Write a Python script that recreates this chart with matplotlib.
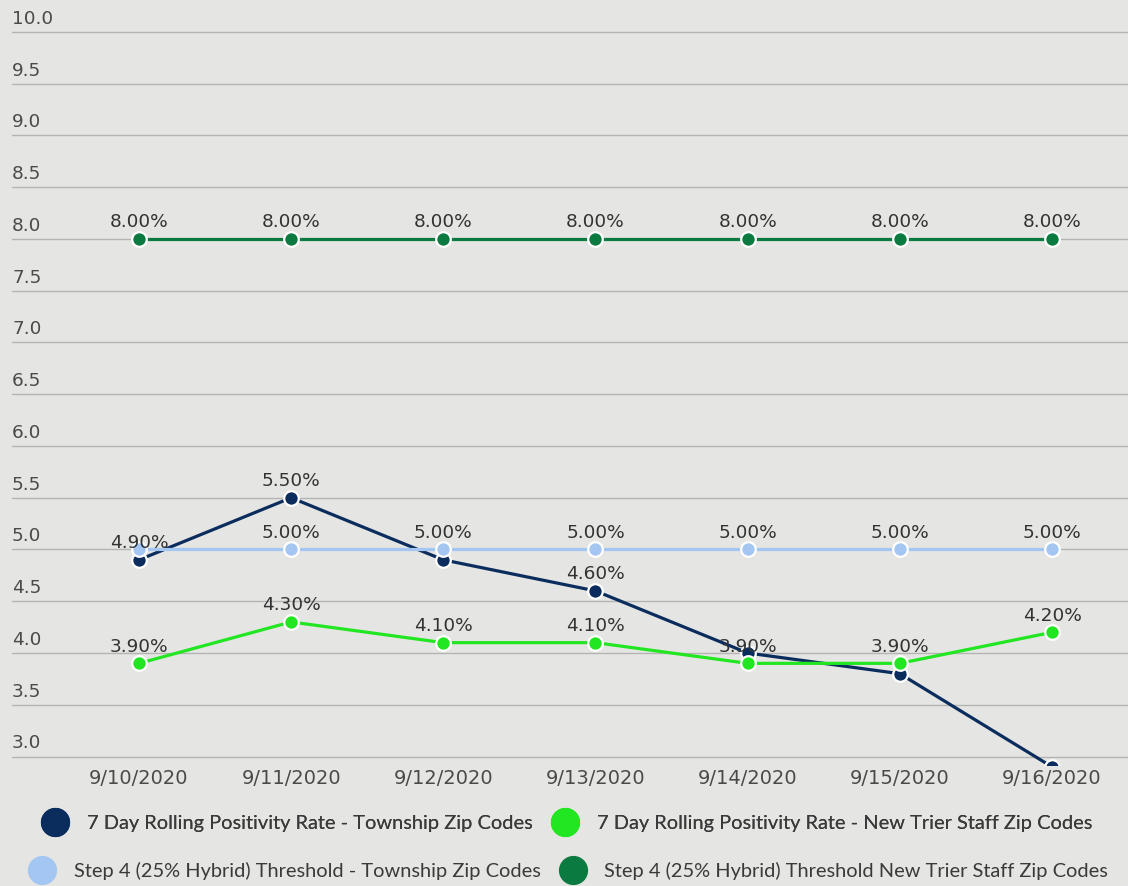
import matplotlib
matplotlib.use("Agg")
import matplotlib.pyplot as plt
import matplotlib.transforms as mtransforms
from matplotlib.lines import Line2D

# data
dates = ["9/10/2020", "9/11/2020", "9/12/2020", "9/13/2020",
         "9/14/2020", "9/15/2020", "9/16/2020"]
township_rate = [4.9, 5.5, 4.9, 4.6, 4.0, 3.8, 2.9]
staff_rate = [3.9, 4.3, 4.1, 4.1, 3.9, 3.9, 4.2]
township_threshold = [5.0, 5.0, 5.0, 5.0, 5.0, 5.0, 5.0]
staff_threshold = [8.0, 8.0, 8.0, 8.0, 8.0, 8.0, 8.0]

names = ["7 Day Rolling Positivity Rate - Township Zip Codes",
         "7 Day Rolling Positivity Rate - New Trier Staff Zip Codes",
         "Step 4 (25% Hybrid) Threshold - Township Zip Codes",
         "Step 4 (25% Hybrid) Threshold New Trier Staff Zip Codes"]

# which data labels survive the overlap hiding in the original
shown_township = [1, 1, 0, 1, 0, 0, 1]
shown_staff = [1, 1, 1, 1, 1, 1, 1]
shown_town_thr = [0, 1, 1, 1, 1, 1, 1]
shown_staff_thr = [1, 1, 1, 1, 1, 1, 1]

colors = ["#0b2d5e", "#22e622", "#a3c6f2", "#0a7a40"]
bg = "#e5e5e3"
txt = "#4a4a4a"

W, H = 1128, 886
fig = plt.figure(figsize=(W / 100, H / 100), dpi=100, facecolor=bg)
ax = fig.add_axes([12 / W, (H - 765) / H, 1 - 12 / W, 765 / H])
ax.set_facecolor(bg)

x = list(range(len(dates)))
series = [township_rate, staff_rate, township_threshold, staff_threshold]
shown = [shown_township, shown_staff, shown_town_thr, shown_staff_thr]

for i, ys in enumerate(series):
    ax.plot(x, ys, color=colors[i], lw=2.3, marker="o", ms=10.5,
            mfc=colors[i], mec="white", mew=1.6, zorder=3 + i)
    for xi, yi, s in zip(x, ys, shown[i]):
        if s:
            ax.annotate("%.2f%%" % yi, (xi, yi), xytext=(0, 5.5),
                        textcoords="offset points", ha="center",
                        va="bottom", fontsize=13.3, color="#333333",
                        zorder=10)

# pixel mapping: x index 0 -> px 139, spacing ~152.2 ; 10.0 -> 32 px, 3.0 -> 756.5
step = 152.2
ax.set_xlim(-(139 - 12) / step, 6 + (W - 1052) / step)
ppu = (756.5 - 32) / 7.0
ax.set_ylim(3.0 - (765 - 756.5) / ppu, 10.0 + 32 / ppu)

yt = [3.0 + 0.5 * k for k in range(15)]
ax.set_yticks(yt)
ax.set_yticklabels(["%.1f" % v for v in yt])
ax.yaxis.grid(True, color="#b4b4b4", lw=1.0)
ax.set_axisbelow(True)
ax.tick_params(axis="y", length=0, pad=0, labelsize=13.3, labelcolor=txt)
off = mtransforms.ScaledTranslation(0, 3 / 72, fig.dpi_scale_trans)
for lab in ax.get_yticklabels():
    lab.set_horizontalalignment("left")
    lab.set_verticalalignment("bottom")
    lab.set_x(0.0)
    lab.set_transform(ax.get_yaxis_transform() + off)

ax.set_xticks(x)
ax.set_xticklabels(dates)
ax.tick_params(axis="x", length=0, pad=3, labelsize=14, labelcolor=txt)
for sp in ax.spines.values():
    sp.set_visible(False)

handles = [Line2D([], [], ls="", marker="o", ms=20, color=c) for c in colors]
legfont = {"family": ["Lato", "DejaVu Sans"], "size": 14.4}
leg1 = fig.legend(handles[:2], names[:2], loc="center", ncol=2,
                  bbox_to_anchor=(569 / W, (H - 823) / H), frameon=False,
                  prop=legfont, labelcolor="#3a3a3a", handlelength=1.0,
                  handletextpad=1.1, columnspacing=1.1)
leg2 = fig.legend(handles[2:], names[2:], loc="center", ncol=2,
                  bbox_to_anchor=(570 / W, (H - 871) / H), frameon=False,
                  prop=legfont, labelcolor="#3a3a3a", handlelength=1.0,
                  handletextpad=1.1, columnspacing=1.1)
fig.add_artist(leg1)

fig.savefig("out.png", dpi=100, facecolor=bg)
